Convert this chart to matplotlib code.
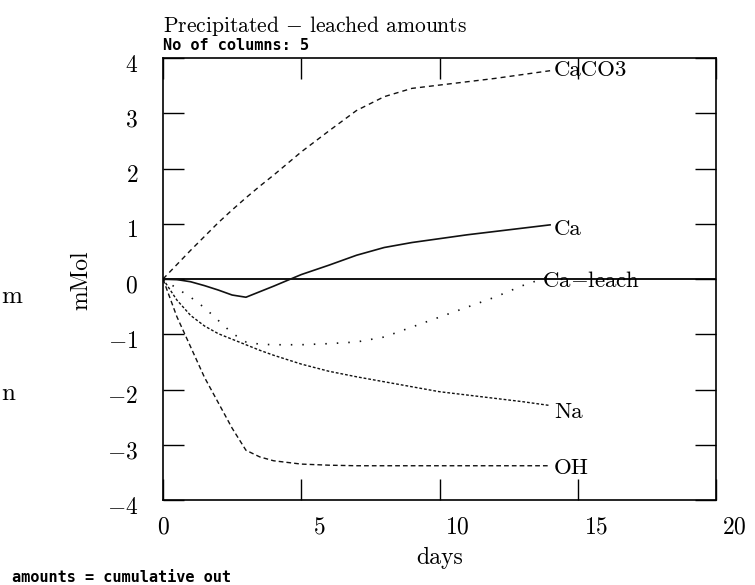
import matplotlib
matplotlib.use("Agg")
import matplotlib.pyplot as plt
from matplotlib.transforms import ScaledTranslation
import matplotlib.ticker as mticker

# ---- data ----
days = [0, 0.5, 1, 1.5, 2, 2.5, 3, 3.5, 4, 5, 6, 7, 8, 9, 10, 11, 12, 13, 14]
caco3 = [0, 0.26, 0.52, 0.77, 1.02, 1.25, 1.47, 1.68, 1.88, 2.30, 2.68, 3.05, 3.30, 3.45, 3.51, 3.57, 3.63, 3.70, 3.77]
ca = [0, -0.01, -0.05, -0.12, -0.20, -0.29, -0.33, -0.23, -0.13, 0.08, 0.25, 0.43, 0.57, 0.66, 0.73, 0.80, 0.86, 0.92, 0.98]
ca_leach = [0, -0.17, -0.33, -0.52, -0.75, -0.98, -1.14, -1.18, -1.19, -1.19, -1.17, -1.14, -1.05, -0.87, -0.69, -0.51, -0.33, -0.12, 0.05]
na = [0, -0.38, -0.66, -0.85, -0.99, -1.09, -1.19, -1.29, -1.38, -1.54, -1.67, -1.77, -1.86, -1.95, -2.04, -2.10, -2.16, -2.22, -2.29]
oh = [0, -0.68, -1.23, -1.78, -2.24, -2.70, -3.10, -3.22, -3.29, -3.35, -3.37, -3.38, -3.38, -3.38, -3.38, -3.38, -3.38, -3.38, -3.38]
series_names = ["CaCO3", "Ca", "Ca$-$leach", "Na", "OH"]
xticks = [0, 5, 10, 15, 20]
yticks = [-4, -3, -2, -1, 0, 1, 2, 3, 4]

plt.rcParams['mathtext.fontset'] = 'cm'
plt.rcParams['axes.formatter.use_mathtext'] = True
plt.rcParams['font.family'] = ['cmr10', 'DejaVu Serif']

W, H = 755, 585
fig = plt.figure(figsize=(W / 100, H / 100), dpi=100)
ax = fig.add_axes([163 / W, 1 - 500 / H, (716 - 163) / W, (500 - 58) / H])

styles = [
    dict(ls=(0, (3.6, 2.9)), lw=1.0),
    dict(ls='-', lw=1.2),
    dict(ls=(0, (0.9, 6.0)), lw=1.2),
    dict(ls=(0, (2.0, 1.4)), lw=1.0),
    dict(ls=(0, (3.4, 2.2)), lw=1.0),
]
data = [caco3, ca, ca_leach, na, oh]
ax.axhline(0, color='black', lw=1.3, zorder=1)
label_offsets = [(4, 2), (4, -2), (-8, -3), (4, -5), (4, 0)]
for vals, st, name, off in zip(data, styles, series_names, label_offsets):
    ax.plot(days, vals, color='#111111', **st)
    ax.annotate(name, xy=(days[-1], vals[-1]), xytext=off, textcoords='offset pixels',
                fontsize=16.5, va='center_baseline', ha='left', color='black')

ax.set_xlim(0, 20)
ax.set_ylim(-4, 4)
ax.set_xticks(xticks)
ax.set_yticks(yticks)
ax.xaxis.set_major_formatter(mticker.ScalarFormatter(useMathText=True))
ax.tick_params(direction='in', length=15, width=1.0, top=True, right=True,
               labelsize=17)
ax.tick_params(axis='x', pad=12)
ax.tick_params(axis='y', pad=18)
for sp in ax.spines.values():
    sp.set_linewidth(1.2)

# tick label offsets as in reference
for i, lab in enumerate(ax.get_xticklabels()):
    dx = 0 if i == 0 else 18 / 100
    lab.set_transform(lab.get_transform() + ScaledTranslation(dx, 0, fig.dpi_scale_trans))
for lab in ax.get_yticklabels():
    lab.set_transform(lab.get_transform() + ScaledTranslation(0, -5 / 100, fig.dpi_scale_trans))

fig.text(440 / W, 1 - 558 / H, "days", fontsize=17, ha='center', va='center')
fig.text(81 / W, 1 - 280 / H, "mMol", fontsize=17, ha='center', va='center', rotation=90)

fig.text(163 / W, 1 - 32 / H, "Precipitated $-$ leached amounts", fontsize=15.5,
         ha='left', va='baseline')
fig.text(163 / W, 1 - 50 / H, "No of columns: 5", fontsize=11, family='DejaVu Sans Mono',
         weight='bold', ha='left', va='baseline')
fig.text(12 / W, 1 - 582 / H, "amounts = cumulative out", fontsize=11,
         family='DejaVu Sans Mono', weight='bold', ha='left', va='baseline')

# stray clipped labels at left edge
fig.text(1 / W, 1 - 303 / H, "m", fontsize=18, ha='left', va='baseline')
fig.text(1 / W, 1 - 400 / H, "n", fontsize=18, ha='left', va='baseline')

fig.savefig("out.png", dpi=100)
